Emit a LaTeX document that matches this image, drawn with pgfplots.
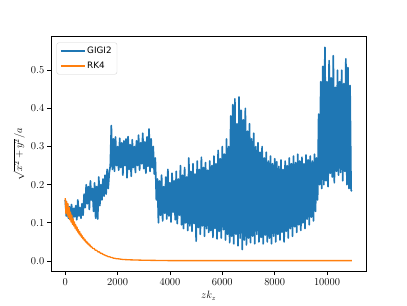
\documentclass[border=0pt]{standalone}
\usepackage{fontspec}
\usepackage{pgfplots}
\pgfplotsset{compat=1.18}
\newfontfamily\dejavu{DejaVu Sans}
\definecolor{mplblue}{RGB}{31,119,180}
\definecolor{mplorange}{RGB}{255,127,14}
\begin{document}
\begin{tikzpicture}
\path[use as bounding box] (-57.6pt,-38.0pt) rectangle (403.2pt,307.6pt);
\begin{axis}[
  at={(0pt,0pt)}, anchor=south west,
  scale only axis, width=357.1pt, height=266.1pt,
  xmin=-550, xmax=11500, ymin=-0.028, ymax=0.588,
  xtick={0,2000,4000,6000,8000,10000},
  ytick={0,0.1,0.2,0.3,0.4,0.5},
  scaled ticks=false,
  xticklabel style={/pgf/number format/1000 sep={}},
  yticklabel style={/pgf/number format/.cd, fixed, fixed zerofill, precision=1},
  tick label style={font=\large},
  label style={font=\large},
  tick align=outside, tick pos=left,
  major tick length=4pt,
  every tick/.style={black, line width=0.8pt},
  axis line style={line width=0.8pt},
  xlabel={$zk_z$}, ylabel={$\sqrt{x^2+y^2}/a$},
  legend cell align=left,
  legend style={at={(0.018,0.975)}, anchor=north west, draw=black!18, rounded corners=2.5pt, fill=white, font=\dejavu, inner xsep=4pt, inner ysep=3pt, row sep=4pt},
  legend image code/.code={\draw[#1, line width=1.5pt] (0pt,0pt) -- (27pt,0pt);},
]
\addplot[mplblue, line width=1.9pt, line join=round] coordinates {
(0,.160)(40,.118)(80,.150)(120,.112)(160,.142)(200,.120)(240,.148)(280,.110)(320,.138)(360,.116)
(400,.145)(440,.108)(480,.160)(520,.118)(560,.140)(600,.112)(640,.150)(680,.120)
(720,.175)(760,.140)(800,.200)(840,.150)(880,.195)(920,.135)(960,.210)(1000,.160)(1040,.190)(1080,.130)
(1120,.205)(1160,.112)(1200,.195)(1240,.110)(1280,.220)(1320,.145)(1360,.200)(1400,.160)(1440,.215)(1480,.170)
(1520,.225)(1560,.175)(1600,.240)(1640,.190)(1680,.230)
(1720,.250)(1760,.355)(1800,.240)(1840,.320)(1880,.235)(1920,.325)(1960,.250)(2000,.300)(2040,.238)(2080,.322)
(2120,.245)(2160,.310)(2200,.225)(2240,.315)(2280,.250)(2320,.320)(2360,.218)(2400,.326)(2440,.240)(2480,.305)
(2520,.222)(2560,.318)(2600,.245)(2640,.300)(2680,.232)(2720,.315)(2760,.250)(2800,.330)(2840,.238)(2880,.310)
(2920,.255)(2960,.335)(3000,.242)(3040,.312)(3080,.230)(3120,.325)(3160,.248)(3200,.346)(3240,.235)(3280,.320)
(3320,.245)(3360,.300)(3400,.228)
(3440,.270)(3480,.160)(3520,.215)(3560,.100)(3600,.210)(3640,.120)(3680,.225)(3720,.105)(3760,.195)(3800,.125)
(3840,.220)(3880,.110)(3920,.240)(3960,.118)(4000,.205)(4040,.102)(4080,.230)(4120,.128)(4160,.210)(4200,.108)
(4240,.235)(4280,.098)(4320,.215)(4360,.120)(4400,.250)(4440,.095)(4480,.225)(4520,.085)(4560,.245)(4600,.100)
(4640,.220)(4680,.080)(4720,.270)(4760,.092)(4800,.235)(4840,.078)(4880,.255)(4920,.098)(4960,.228)(5000,.052)
(5040,.262)(5080,.088)(5120,.240)(5160,.070)(5200,.272)(5240,.092)(5280,.245)(5320,.065)(5360,.258)(5400,.085)
(5440,.238)(5480,.075)
(5520,.262)(5560,.080)(5600,.250)(5640,.062)(5680,.275)(5720,.085)(5760,.255)(5800,.058)(5840,.290)(5880,.078)
(5920,.268)(5960,.060)(6000,.300)(6040,.082)(6080,.280)(6120,.055)(6160,.320)(6200,.070)(6240,.300)(6280,.048)
(6320,.380)(6360,.065)(6400,.410)(6440,.045)(6480,.425)(6520,.070)(6560,.360)(6600,.040)(6640,.430)(6680,.060)
(6720,.395)(6760,.030)(6800,.370)(6840,.055)(6880,.400)(6920,.042)(6960,.340)(7000,.060)(7040,.360)(7080,.048)
(7120,.320)(7160,.065)(7200,.335)(7240,.045)(7280,.300)(7320,.070)(7360,.310)(7400,.050)(7440,.285)(7480,.062)
(7520,.300)(7560,.045)(7600,.270)(7640,.068)(7680,.285)(7720,.050)(7760,.262)(7800,.060)(7840,.275)(7880,.045)
(7920,.255)(7960,.065)(8000,.268)
(8040,.050)(8080,.260)(8120,.070)(8160,.248)(8200,.055)(8240,.265)(8280,.075)(8320,.240)(8360,.050)(8400,.262)
(8440,.078)(8480,.250)(8520,.060)(8560,.270)(8600,.085)(8640,.255)(8680,.065)(8720,.275)(8760,.090)(8800,.258)
(8840,.075)(8880,.280)(8920,.095)(8960,.262)(9000,.080)(9040,.272)(9080,.100)(9120,.255)(9160,.085)(9200,.278)
(9240,.110)(9280,.265)(9320,.095)(9360,.275)(9400,.115)(9440,.262)(9480,.105)(9520,.280)(9560,.130)(9600,.270)
(9640,.160)(9680,.385)(9720,.200)(9760,.470)(9800,.190)(9840,.510)(9880,.200)(9920,.560)(9960,.210)(10000,.470)
(10040,.195)(10080,.525)(10120,.230)(10160,.480)(10200,.220)(10240,.538)(10280,.205)(10320,.455)(10360,.235)(10400,.500)
(10440,.225)(10480,.470)(10520,.232)(10560,.500)(10600,.210)(10640,.465)(10680,.235)(10720,.530)(10760,.200)(10800,.507)
(10840,.190)(10880,.460)(10920,.185)(10950,.183)
};
\addlegendentry{GIGI2}
\addplot[mplorange, line width=1.5pt, line join=round] coordinates {
(0,.165)(25,.125)(50,.156)(75,.120)(100,.150)(125,.114)(150,.140)(175,.108)(200,.128)(225,.102)
(250,.120)(275,.096)(300,.110)(325,.092)(350,.102)(375,.086)(400,.095)(425,.081)(450,.089)(475,.076)
(500,.082)(525,.071)(550,.077)(575,.066)(600,.071)(625,.062)(650,.066)(675,.058)(700,.061)(725,.054)
(750,.057)(775,.050)(800,.052)(825,.047)(850,.049)(875,.043)(900,.045)(925,.040)(950,.042)(975,.037)
(1000,.038)(1050,.033)(1100,.033)(1150,.028)(1200,.028)(1250,.024)(1300,.024)(1350,.020)(1400,.020)(1450,.017)
(1500,.016)(1550,.014)(1600,.013)(1650,.011)(1700,.011)(1750,.009)(1800,.009)(1850,.007)(1900,.007)(1950,.006)
(2000,.006)(2200,.004)(2500,.003)(3000,.002)(3500,.0015)(4000,.001)(6000,.001)(10950,.001)
};
\addlegendentry{RK4}
\end{axis}
\end{tikzpicture}
\end{document}
